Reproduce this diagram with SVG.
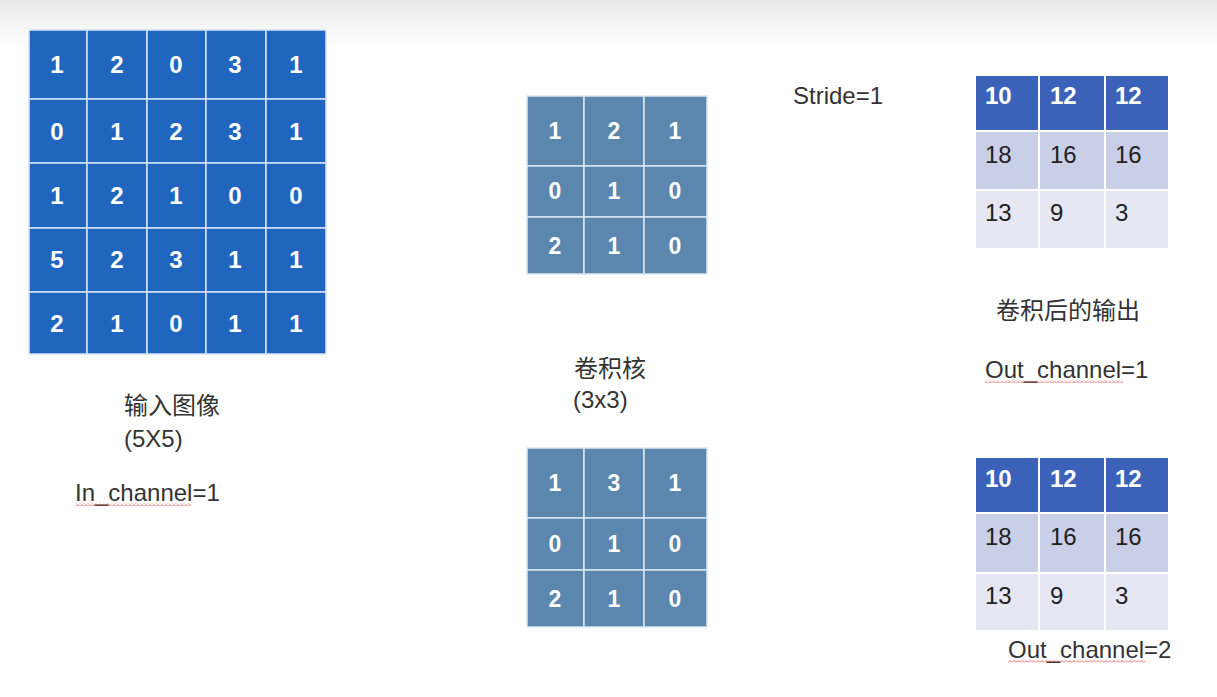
<svg xmlns="http://www.w3.org/2000/svg" width="1217" height="697" viewBox="0 0 1217 697">
<defs>
<linearGradient id="topfade" x1="0" y1="0" x2="0" y2="1">
<stop offset="0" stop-color="#e9e9e9"/>
<stop offset="1" stop-color="#ffffff"/>
</linearGradient>
<pattern id="squig" width="4" height="3" patternUnits="userSpaceOnUse">
<path d="M0 2.5 L2 0.5 L4 2.5" fill="none" stroke="#e04848" stroke-width="0.8"/>
</pattern>
<style>
.in{fill:#2166be;stroke:#d6e4f7;stroke-width:1.5}
.k{fill:#5b86ae;stroke:#dbe6f1;stroke-width:1.5}
.oh{fill:#3b62b8;stroke:#ffffff;stroke-width:2}
.o2{fill:#c9cfe6;stroke:#ffffff;stroke-width:2}
.o3{fill:#e6e7f2;stroke:#ffffff;stroke-width:2}
.n{font-family:"Liberation Sans",Arial,sans-serif;font-weight:bold;font-size:24px;fill:#ffffff;text-anchor:middle}
.kn{font-family:"Liberation Sans",Arial,sans-serif;font-weight:bold;font-size:23px;fill:#ffffff;text-anchor:middle}
.ohn{font-family:"Liberation Sans",Arial,sans-serif;font-weight:bold;font-size:24px;fill:#ffffff}
.on{font-family:"Liberation Sans",Arial,sans-serif;font-size:24px;fill:#222222}
.lbl{font-family:"Liberation Sans","Noto Sans CJK SC",sans-serif;font-size:24px;fill:#333333}
.cjk{font-family:"Noto Sans CJK SC","Liberation Sans",sans-serif;font-size:24px;fill:#333333}
</style>
</defs>
<rect x="0" y="0" width="1217" height="697" fill="#ffffff"/>
<rect x="0" y="0" width="1217" height="48" fill="url(#topfade)"/>

<g id="input-image">
<rect class="in" x="29" y="30" width="58" height="69"/><rect class="in" x="87" y="30" width="60" height="69"/><rect class="in" x="147" y="30" width="59" height="69"/><rect class="in" x="206" y="30" width="60" height="69"/><rect class="in" x="266" y="30" width="60" height="69"/>
<rect class="in" x="29" y="99" width="58" height="64"/><rect class="in" x="87" y="99" width="60" height="64"/><rect class="in" x="147" y="99" width="59" height="64"/><rect class="in" x="206" y="99" width="60" height="64"/><rect class="in" x="266" y="99" width="60" height="64"/>
<rect class="in" x="29" y="163" width="58" height="65"/><rect class="in" x="87" y="163" width="60" height="65"/><rect class="in" x="147" y="163" width="59" height="65"/><rect class="in" x="206" y="163" width="60" height="65"/><rect class="in" x="266" y="163" width="60" height="65"/>
<rect class="in" x="29" y="228" width="58" height="64"/><rect class="in" x="87" y="228" width="60" height="64"/><rect class="in" x="147" y="228" width="59" height="64"/><rect class="in" x="206" y="228" width="60" height="64"/><rect class="in" x="266" y="228" width="60" height="64"/>
<rect class="in" x="29" y="292" width="58" height="62"/><rect class="in" x="87" y="292" width="60" height="62"/><rect class="in" x="147" y="292" width="59" height="62"/><rect class="in" x="206" y="292" width="60" height="62"/><rect class="in" x="266" y="292" width="60" height="62"/>
<text class="n" x="57" y="73">1</text><text class="n" x="117" y="73">2</text><text class="n" x="176" y="73">0</text><text class="n" x="235" y="73">3</text><text class="n" x="296" y="73">1</text>
<text class="n" x="57" y="140">0</text><text class="n" x="117" y="140">1</text><text class="n" x="176" y="140">2</text><text class="n" x="235" y="140">3</text><text class="n" x="296" y="140">1</text>
<text class="n" x="57" y="204">1</text><text class="n" x="117" y="204">2</text><text class="n" x="176" y="204">1</text><text class="n" x="235" y="204">0</text><text class="n" x="296" y="204">0</text>
<text class="n" x="57" y="268">5</text><text class="n" x="117" y="268">2</text><text class="n" x="176" y="268">3</text><text class="n" x="235" y="268">1</text><text class="n" x="296" y="268">1</text>
<text class="n" x="57" y="332">2</text><text class="n" x="117" y="332">1</text><text class="n" x="176" y="332">0</text><text class="n" x="235" y="332">1</text><text class="n" x="296" y="332">1</text>
<text class="cjk" x="124" y="414">输入图像</text>
<text class="lbl" x="124" y="447">(5X5)</text>
<text class="lbl" x="75" y="501">In_channel=1</text>
<rect x="75" y="503" width="116" height="3" fill="url(#squig)"/>
</g>

<g id="kernel-1">
<rect class="k" x="527" y="96" width="57" height="70"/><rect class="k" x="584" y="96" width="60" height="70"/><rect class="k" x="644" y="96" width="63" height="70"/>
<rect class="k" x="527" y="166" width="57" height="51"/><rect class="k" x="584" y="166" width="60" height="51"/><rect class="k" x="644" y="166" width="63" height="51"/>
<rect class="k" x="527" y="217" width="57" height="57"/><rect class="k" x="584" y="217" width="60" height="57"/><rect class="k" x="644" y="217" width="63" height="57"/>
<text class="kn" x="555" y="139">1</text><text class="kn" x="614" y="139">2</text><text class="kn" x="675" y="139">1</text>
<text class="kn" x="555" y="199">0</text><text class="kn" x="614" y="199">1</text><text class="kn" x="675" y="199">0</text>
<text class="kn" x="555" y="254">2</text><text class="kn" x="614" y="254">1</text><text class="kn" x="675" y="254">0</text>
</g>

<g id="kernel-label">
<text class="cjk" x="574" y="377">卷积核</text>
<text class="lbl" x="573" y="408">(3x3)</text>
</g>

<g id="kernel-2">
<rect class="k" x="527" y="448" width="57" height="70"/><rect class="k" x="584" y="448" width="60" height="70"/><rect class="k" x="644" y="448" width="63" height="70"/>
<rect class="k" x="527" y="518" width="57" height="52"/><rect class="k" x="584" y="518" width="60" height="52"/><rect class="k" x="644" y="518" width="63" height="52"/>
<rect class="k" x="527" y="570" width="57" height="57"/><rect class="k" x="584" y="570" width="60" height="57"/><rect class="k" x="644" y="570" width="63" height="57"/>
<text class="kn" x="555" y="491">1</text><text class="kn" x="614" y="491">3</text><text class="kn" x="675" y="491">1</text>
<text class="kn" x="555" y="552">0</text><text class="kn" x="614" y="552">1</text><text class="kn" x="675" y="552">0</text>
<text class="kn" x="555" y="607">2</text><text class="kn" x="614" y="607">1</text><text class="kn" x="675" y="607">0</text>
</g>

<g id="stride">
<text class="lbl" x="793" y="104">Stride=1</text>
</g>

<g id="output-1">
<rect class="oh" x="975" y="75" width="64" height="56"/><rect class="oh" x="1039" y="75" width="66" height="56"/><rect class="oh" x="1105" y="75" width="64" height="56"/>
<rect class="o2" x="975" y="131" width="64" height="59"/><rect class="o2" x="1039" y="131" width="66" height="59"/><rect class="o2" x="1105" y="131" width="64" height="59"/>
<rect class="o3" x="975" y="190" width="64" height="59"/><rect class="o3" x="1039" y="190" width="66" height="59"/><rect class="o3" x="1105" y="190" width="64" height="59"/>
<text class="ohn" x="985" y="104">10</text><text class="ohn" x="1050" y="104">12</text><text class="ohn" x="1115" y="104">12</text>
<text class="on" x="985" y="163">18</text><text class="on" x="1050" y="163">16</text><text class="on" x="1115" y="163">16</text>
<text class="on" x="985" y="221">13</text><text class="on" x="1050" y="221">9</text><text class="on" x="1115" y="221">3</text>
<text class="cjk" x="996" y="319">卷积后的输出</text>
<text class="lbl" x="985" y="378">Out_channel=1</text>
<rect x="985" y="380" width="138" height="3" fill="url(#squig)"/>
</g>

<g id="output-2">
<rect class="oh" x="975" y="457" width="64" height="56"/><rect class="oh" x="1039" y="457" width="66" height="56"/><rect class="oh" x="1105" y="457" width="64" height="56"/>
<rect class="o2" x="975" y="513" width="64" height="60"/><rect class="o2" x="1039" y="513" width="66" height="60"/><rect class="o2" x="1105" y="513" width="64" height="60"/>
<rect class="o3" x="975" y="573" width="64" height="58"/><rect class="o3" x="1039" y="573" width="66" height="58"/><rect class="o3" x="1105" y="573" width="64" height="58"/>
<text class="ohn" x="985" y="487">10</text><text class="ohn" x="1050" y="487">12</text><text class="ohn" x="1115" y="487">12</text>
<text class="on" x="985" y="545">18</text><text class="on" x="1050" y="545">16</text><text class="on" x="1115" y="545">16</text>
<text class="on" x="985" y="604">13</text><text class="on" x="1050" y="604">9</text><text class="on" x="1115" y="604">3</text>
<text class="lbl" x="1008" y="658">Out_channel=2</text>
<rect x="1008" y="660" width="138" height="3" fill="url(#squig)"/>
</g>

<g id="connectors"></g>
</svg>
